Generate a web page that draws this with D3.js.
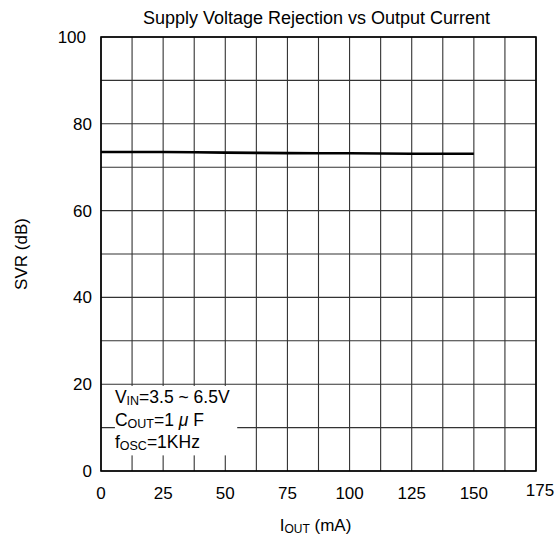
<!DOCTYPE html>
<html>
<head>
<meta charset="utf-8">
<script src="https://cdn.jsdelivr.net/npm/d3@7"></script>
<style>
  body { margin: 0; background: #fff; }
  text { font-family: "Liberation Sans", Arial, sans-serif; fill: #000; }
</style>
</head>
<body>
<script>
// Data
const ioutValues = [0, 12.5, 25, 37.5, 50, 62.5, 75, 87.5, 100, 112.5, 125, 137.5, 150];
const svrValues = [73.5, 73.5, 73.5, 73.45, 73.35, 73.3, 73.25, 73.2, 73.2, 73.15, 73.1, 73.1, 73.1];
const xTicks = [0, 25, 50, 75, 100, 125, 150, 175];
const yTicks = [0, 20, 40, 60, 80, 100];
const xGrid = d3.range(0, 175.01, 12.5);
const yGrid = d3.range(0, 100.01, 10);
const noteLines = [
  { main: "V", sub: "IN", rest: "=3.5 ~ 6.5V", mu: "", tail: "" },
  { main: "C", sub: "OUT", rest: "=1 ", mu: "\u03bc", tail: " F" },
  { main: "f", sub: "OSC", rest: "=1KHz", mu: "", tail: "" },
];

const width = 560, height = 539;
const margin = { top: 37, right: 24, bottom: 68, left: 101 };

const svg = d3.select("body").append("svg")
  .attr("width", width)
  .attr("height", height);

const x = d3.scaleLinear().domain([0, 175]).range([margin.left, width - margin.right]);
const y = d3.scaleLinear().domain([0, 100]).range([height - margin.bottom, margin.top]);

// Grid lines
svg.append("g")
  .selectAll("line")
  .data(xGrid)
  .enter()
  .append("line")
  .attr("x1", d => x(d)).attr("x2", d => x(d))
  .attr("y1", y(0)).attr("y2", y(100))
  .attr("stroke", "#333")
  .attr("stroke-width", 1.1);

svg.append("g")
  .selectAll("line")
  .data(yGrid)
  .enter()
  .append("line")
  .attr("x1", x(0)).attr("x2", x(175))
  .attr("y1", d => y(d)).attr("y2", d => y(d))
  .attr("stroke", "#333")
  .attr("stroke-width", 1.1);

// White box behind the note
svg.append("rect")
  .attr("x", x(5.6))
  .attr("y", y(19.6))
  .attr("width", x(54.8) - x(5.6))
  .attr("height", y(3.6) - y(19.6))
  .attr("fill", "#fff");

// Frame
svg.append("rect")
  .attr("x", x(0)).attr("y", y(100))
  .attr("width", x(175) - x(0))
  .attr("height", y(0) - y(100))
  .attr("fill", "none")
  .attr("stroke", "#000")
  .attr("stroke-width", 1.6);

// Curve
const line = d3.line()
  .x((d, i) => x(ioutValues[i]))
  .y(d => y(d));

svg.append("path")
  .datum(svrValues)
  .attr("d", line)
  .attr("fill", "none")
  .attr("stroke", "#000")
  .attr("stroke-width", 2.6);

// Tick labels
svg.append("g")
  .selectAll("text")
  .data(xTicks)
  .enter()
  .append("text")
  .attr("x", d => x(d) + (d === 175 ? 4 : 0))
  .attr("y", d => y(0) + (d === 175 ? 25 : 28))
  .attr("text-anchor", "middle")
  .attr("font-size", 17)
  .text(d => d);

svg.append("g")
  .selectAll("text")
  .data(yTicks)
  .enter()
  .append("text")
  .attr("x", d => x(0) - (d === 100 ? 15 : 9))
  .attr("y", d => y(d) + 6)
  .attr("text-anchor", "end")
  .attr("font-size", 17)
  .text(d => d);

// Title
svg.append("text")
  .attr("x", (x(0) + x(175)) / 2 - 2)
  .attr("y", 24)
  .attr("text-anchor", "middle")
  .attr("font-size", 18)
  .text("Supply Voltage Rejection vs Output Current");

// Axis titles
svg.append("text")
  .attr("transform", `translate(27, ${(y(0) + y(100)) / 2}) rotate(-90)`)
  .attr("text-anchor", "middle")
  .attr("font-size", 17)
  .text("SVR (dB)");

const xt = svg.append("text")
  .attr("x", (x(0) + x(175)) / 2 - 3)
  .attr("y", 531)
  .attr("text-anchor", "middle")
  .attr("font-size", 17);
xt.append("tspan").text("I");
xt.append("tspan").attr("font-size", 12).attr("dy", 2).text("OUT");
xt.append("tspan").attr("dy", -2).text(" (mA)");

// Note text
const note = svg.append("g")
  .selectAll("text")
  .data(noteLines)
  .enter()
  .append("text")
  .attr("x", x(5.6))
  .attr("y", (d, i) => 403 + i * 22.5)
  .attr("font-size", 17.5);

note.append("tspan").text(d => d.main);
note.append("tspan").attr("font-size", 12.5).attr("dy", 2).text(d => d.sub);
note.append("tspan").attr("dy", -2).text(d => d.rest);
note.append("tspan").attr("font-style", "italic").text(d => d.mu);
note.append("tspan").text(d => d.tail);
</script>
</body>
</html>
